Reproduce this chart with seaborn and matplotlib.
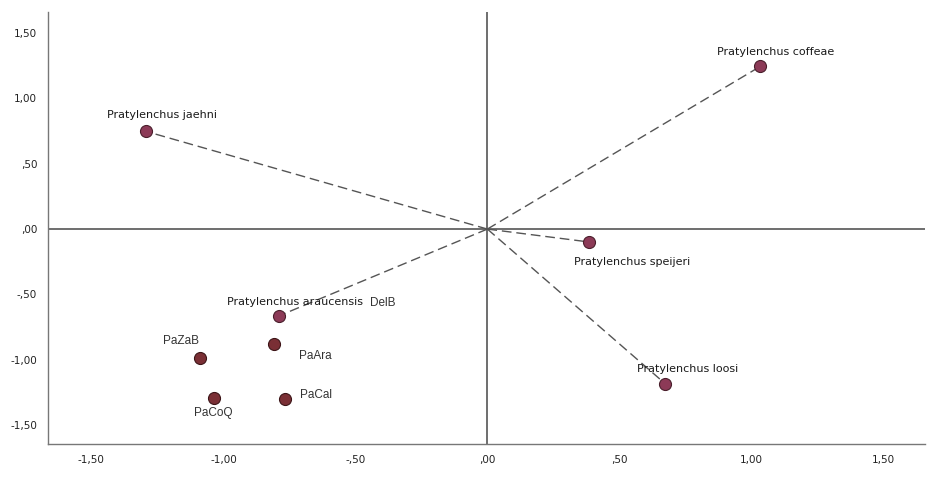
import numpy as np
import pandas as pd
import seaborn as sns
import matplotlib
matplotlib.use('Agg')
import matplotlib.pyplot as plt
from matplotlib.ticker import FuncFormatter

# species (vectors from origin)
species = ['Pratylenchus coffeae', 'Pratylenchus jaehni', 'Pratylenchus speijeri',
           'Pratylenchus loosi', 'Pratylenchus araucensis']
species_x = [1.034, -1.295, 0.386, 0.674, -0.790]
species_y = [1.244, 0.748, -0.099, -1.183, -0.664]

# isolates
isolates = ['PaAra', 'PaZaB', 'PaCoQ', 'PaCal']
isolates_x = [-0.810, -1.087, -1.034, -0.765]
isolates_y = [-0.878, -0.985, -1.290, -1.298]

ticks = [-1.5, -1.0, -0.5, 0.0, 0.5, 1.0, 1.5]

sp_df = pd.DataFrame({'x': species_x, 'y': species_y, 'label': species})
iso_df = pd.DataFrame({'x': isolates_x, 'y': isolates_y, 'label': isolates})

sns.set_style('white')
plt.rcParams['font.family'] = ['DejaVu Sans']

fig, ax = plt.subplots(figsize=(9.3, 4.78), dpi=100)
fig.subplots_adjust(left=0.052, right=0.995, top=0.975, bottom=0.072)

ax.axhline(0, color='#555555', lw=1.2, zorder=1)
ax.axvline(0, color='#555555', lw=1.2, zorder=1)

# dashed vectors from origin
for x, y in zip(species_x, species_y):
    ax.plot([0, x], [0, y], ls=(0, (7, 3.5)), color='#555555', lw=1.0, zorder=2)

sns.scatterplot(data=sp_df, x='x', y='y', s=75, color='#8c3a57',
                edgecolor='#4a1f2c', linewidth=0.8, ax=ax, zorder=3)
sns.scatterplot(data=iso_df, x='x', y='y', s=75, color='#7a2f35',
                edgecolor='#3d1518', linewidth=0.8, ax=ax, zorder=3)

# labels (offsets in points)
sp_offsets = [(11, 10), (12, 11.5), (31, -14.5), (16, 11), (11.5, 10)]
for lab, x, y, off in zip(species, species_x, species_y, sp_offsets):
    ax.annotate(lab, (x, y), xytext=off, textcoords='offset points',
                ha='center', va='center', fontsize=8, color='#1a1a1a')

iso_offsets = [(30, -9), (-14, 12), (-1, -11), (22, 3)]
for lab, x, y, off in zip(isolates, isolates_x, isolates_y, iso_offsets):
    ax.annotate(lab, (x, y), xytext=off, textcoords='offset points',
                ha='center', va='center', fontsize=8.5, color='#333333',
                family='Liberation Sans')

ax.annotate('DelB', (species_x[4], species_y[4]), xytext=(75, 9),
            textcoords='offset points', ha='center', va='center',
            fontsize=8.5, color='#333333', family='Liberation Sans')

ax.set_xlim(-1.663, 1.659)
ax.set_ylim(-1.64, 1.66)
ax.set_xticks(ticks)
ax.set_yticks(ticks)

def fmt(v, pos):
    s = '{:.2f}'.format(v).replace('.', ',')
    s = s.replace('-0,', '-,')
    if s.startswith('0,'):
        s = s[1:]
    return s

ax.xaxis.set_major_formatter(FuncFormatter(fmt))
ax.yaxis.set_major_formatter(FuncFormatter(fmt))
ax.tick_params(axis='both', labelsize=7.5, colors='#222222', length=0, pad=8)
ax.set_xlabel('')
ax.set_ylabel('')

for side in ['top', 'right']:
    ax.spines[side].set_visible(False)
for side in ['left', 'bottom']:
    ax.spines[side].set_color('#777777')
    ax.spines[side].set_linewidth(1.0)

plt.savefig('out.png', dpi=100)
